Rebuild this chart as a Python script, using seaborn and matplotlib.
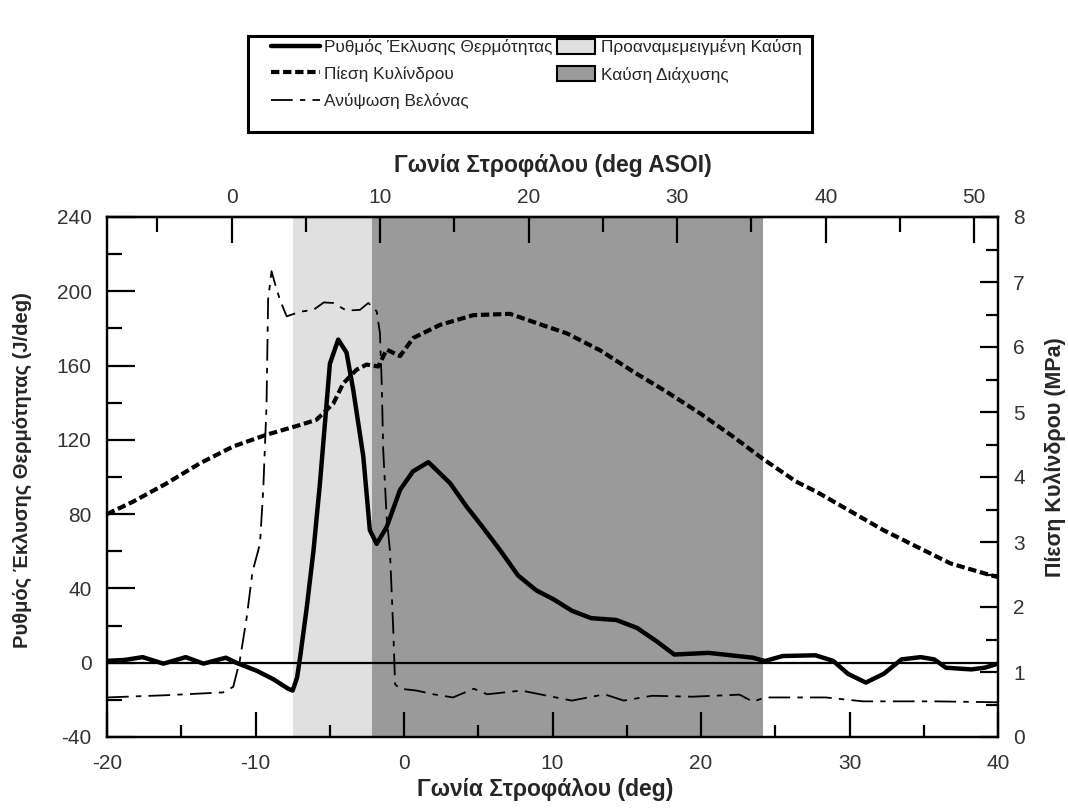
import numpy as np
import pandas as pd
import matplotlib
matplotlib.use("Agg")
import matplotlib.pyplot as plt
import seaborn as sns
from matplotlib.lines import Line2D
from matplotlib.patches import Patch, Rectangle
from matplotlib.ticker import MultipleLocator, FixedLocator

# ---------------- data ----------------
crank_hrr = [-20, -18.8, -17.6, -16.2, -14.7, -13.5, -12.0, -11.3, -9.9, -8.8, -7.8, -7.5, -7.2,
             -7.0, -6.56, -6.1, -5.66, -4.99, -4.43, -3.87, -3.42, -2.74, -2.3, -1.84, -1.17,
             -0.27, 0.6, 1.64, 3.1, 4.22, 5.3, 6.46, 7.68, 8.9, 10.1, 11.3, 12.6, 14.3, 15.7,
             17.0, 18.2, 20.5, 23.5, 24.3, 25.5, 27.7, 28.9, 29.9, 31.1, 32.3, 33.5, 34.8,
             35.7, 36.5, 38.2, 39.1, 40]
hrr = [1, 1.5, 3, -0.5, 3, -0.5, 2.7, 0, -4.4, -8.9, -14, -15, -8,
       2.7, 29, 60, 96.6, 161, 174, 167, 147, 111, 71.4, 64, 73,
       93, 103, 108, 96.7, 84, 73, 60.7, 47, 39, 34, 28, 24, 23, 18.7,
       11.6, 4.4, 5.3, 2.7, 0.9, 3.6, 4, 1, -6, -10.7, -6, 1.8, 3,
       1.8, -2.7, -3.6, -2.7, -0.5]

crank_p = [-20, -18.25, -16, -13.75, -11.5, -9.26, -7.0, -5.9, -4.76, -4.09, -3.2, -2.52,
           -1.73, -1.17, -0.27, 0.63, 2.42, 4.67, 7.14, 9.16, 10.96, 13.2, 15.44, 17.69,
           19.93, 22.17, 24.1, 26.4, 27.8, 32.3, 36.8, 39.5, 40]
pressure = [3.43, 3.62, 3.90, 4.21, 4.47, 4.65, 4.80, 4.88, 5.13, 5.44, 5.65, 5.73,
            5.70, 5.96, 5.86, 6.14, 6.34, 6.49, 6.51, 6.35, 6.21, 5.95, 5.62, 5.31,
            4.98, 4.62, 4.29, 3.93, 3.77, 3.18, 2.67, 2.49, 2.46]

crank_nl = [-20, -16, -12.2, -11.5, -11.06, -10.6, -10.2, -9.7, -9.48, -9.26, -9.15, -8.92,
            -8.7, -8.36, -7.9, -7.0, -6.1, -5.4, -4.76, -3.87, -2.97, -2.4, -1.84, -1.62,
            -1.5, -1.4, -1.17, -0.95, -0.72, -0.6, -0.27, 0.85, 1.98, 3.3, 4.7, 5.6, 7.9,
            11.3, 13.5, 14.8, 16.7, 19.4, 22.6, 23.5, 24.3, 28.4, 30.9, 35.7, 40]
needle = [-18.7, -17.5, -16, -13, 1, 24, 49, 64, 93, 138, 195.5, 210.8,
          204.5, 195.5, 186.5, 189, 190, 194, 193.7, 189.6, 190, 193.7, 189.2, 177.5,
          150.5, 114.6, 78.6, 60.6, 17, -11.6, -14, -15, -17, -18.7, -14, -17, -15,
          -20.4, -17, -20.4, -17.8, -18.3, -17.2, -21, -18.7, -18.7, -20.8, -20.8, -21.3]

premixed_span = [-7.5, -2.15]
diffusion_span = [-2.15, 24.2]
asoi_offset = 11.6
asoi_major = [0, 10, 20, 30, 40, 50]
asoi_minor = [-5, 5, 15, 25, 35, 45]

line_labels = ["Ρυθμός Έκλυσης Θερμότητας", "Πίεση Κυλίνδρου", "Ανύψωση Βελόνας"]
patch_labels = ["Προαναμεμειγμένη Καύση", "Καύση Διάχυσης"]
xlabel_bottom = "Γωνία Στροφάλου (deg)"
xlabel_top = "Γωνία Στροφάλου (deg ASOI)"
ylabel_left = "Ρυθμός Έκλυσης Θερμότητας (J/deg)"
ylabel_right = "Πίεση Κυλίνδρου (MPa)"

# ---------------- style ----------------
sns.set_theme(style="white")
plt.rcParams["font.family"] = ["Liberation Sans", "DejaVu Sans"]
plt.rcParams["axes.unicode_minus"] = False

LIGHT = "#e0e0e0"
DARK = "#9a9a9a"
HRR_LW = 3.2
P_LS = (0, (2.0, 0.9))
NL_LS = (0, (12, 4, 3, 4))
TICK_FS = 15

W, H = 1068, 810
fig = plt.figure(figsize=(W / 100, H / 100), dpi=100)
ax = fig.add_axes([107 / W, 73 / H, 891 / W, 520 / H])

ax.axvspan(*premixed_span, color=LIGHT, lw=0, zorder=0)
ax.axvspan(*diffusion_span, color=DARK, lw=0, zorder=0)
ax.axhline(0, color="black", lw=1.6, zorder=1)

sns.lineplot(x=crank_nl, y=needle, ax=ax, color="black", lw=1.3, linestyle=NL_LS,
             estimator=None, sort=False, errorbar=None)
sns.lineplot(x=crank_hrr, y=hrr, ax=ax, color="black", lw=HRR_LW,
             estimator=None, sort=False, errorbar=None)

ax.set_xlim(-20, 40)
ax.set_ylim(-40, 240)

ax2 = ax.twinx()
sns.lineplot(x=crank_p, y=pressure, ax=ax2, color="black", lw=3.0, linestyle=P_LS,
             estimator=None, sort=False, errorbar=None)
ax2.set_ylim(0, 8)
ax2.set_xlim(-20, 40)

tick_col = "#333333"
ax.xaxis.set_major_locator(MultipleLocator(10))
ax.xaxis.set_minor_locator(MultipleLocator(5))
ax.yaxis.set_major_locator(MultipleLocator(40))
ax.yaxis.set_minor_locator(MultipleLocator(20))
ax.tick_params(axis="both", which="both", direction="in", width=1.6, color="black",
               labelsize=TICK_FS, labelcolor=tick_col, bottom=True, left=True, top=False, right=False)
ax.tick_params(axis="y", which="major", length=20, pad=11)
ax.tick_params(axis="y", which="minor", length=11)
ax.tick_params(axis="x", which="major", length=18, pad=12)
ax.tick_params(axis="x", which="minor", length=9)

ax2.yaxis.set_major_locator(MultipleLocator(1))
ax2.yaxis.set_minor_locator(MultipleLocator(0.5))
ax2.tick_params(axis="y", which="both", direction="in", width=1.6, color="black",
                labelsize=TICK_FS, labelcolor=tick_col, right=True, left=False)
ax2.tick_params(axis="y", which="major", length=13, pad=11)
ax2.tick_params(axis="y", which="minor", length=9)
ax2.set_ylabel(ylabel_right, fontsize=15.5, fontweight="bold")
ax2.yaxis.set_label_coords((1044 - 107) / 891, (810 - 457 - 73) / 520)

sec = ax.secondary_xaxis("top", functions=(lambda x: x + asoi_offset, lambda x: x - asoi_offset))
sec.xaxis.set_major_locator(FixedLocator(asoi_major))
sec.xaxis.set_minor_locator(FixedLocator(asoi_minor))
sec.tick_params(axis="x", which="both", direction="in", width=1.6, color="black",
                labelsize=TICK_FS, labelcolor=tick_col)
sec.tick_params(axis="x", which="major", length=19, pad=7)
sec.tick_params(axis="x", which="minor", length=11)
sec.set_xlabel(xlabel_top, fontsize=16.5, fontweight="bold", labelpad=12)

ax.set_xlabel(xlabel_bottom, fontsize=16.5, fontweight="bold")
ax.xaxis.set_label_coords((545 - 107) / 891, (810 - 778 - 73) / 520)
ax.set_ylabel(ylabel_left, fontsize=14.5, fontweight="bold")
ax.yaxis.set_label_coords((32 - 107) / 891, (810 - 470 - 73) / 520)

for a in (ax, ax2):
    for s in a.spines.values():
        s.set_color("black")
        s.set_linewidth(1.6)
sec.spines["top"].set_linewidth(1.6)
sec.spines["top"].set_color("black")

# ---------------- legend ----------------
LEG_FS = 12.4
h_lines = [Line2D([], [], color="black", lw=HRR_LW),
           Line2D([], [], color="black", lw=3.0, linestyle=P_LS),
           Line2D([], [], color="black", lw=1.3, linestyle=NL_LS)]
h_patches = [Patch(facecolor=LIGHT, edgecolor="black", lw=1.5),
             Patch(facecolor=DARK, edgecolor="black", lw=1.5)]

fig.legend(h_lines, line_labels, loc="upper left", bbox_to_anchor=(271 / W, 1 - 39 / H),
           frameon=False, fontsize=LEG_FS, handlelength=2.85, handletextpad=0.2,
           labelspacing=0.64, borderpad=0, borderaxespad=0)
fig.legend(h_patches, patch_labels, loc="upper left", bbox_to_anchor=(557 / W, 1 - 39 / H),
           frameon=False, fontsize=LEG_FS, handlelength=2.2, handleheight=0.95, handletextpad=0.35,
           labelspacing=0.64, borderpad=0, borderaxespad=0)
fig.add_artist(Rectangle((248 / W, 1 - 132 / H), (812 - 248) / W, 96 / H,
                         transform=fig.transFigure, fill=False, lw=2.2, ec="black"))

fig.savefig("out.png", dpi=100)
